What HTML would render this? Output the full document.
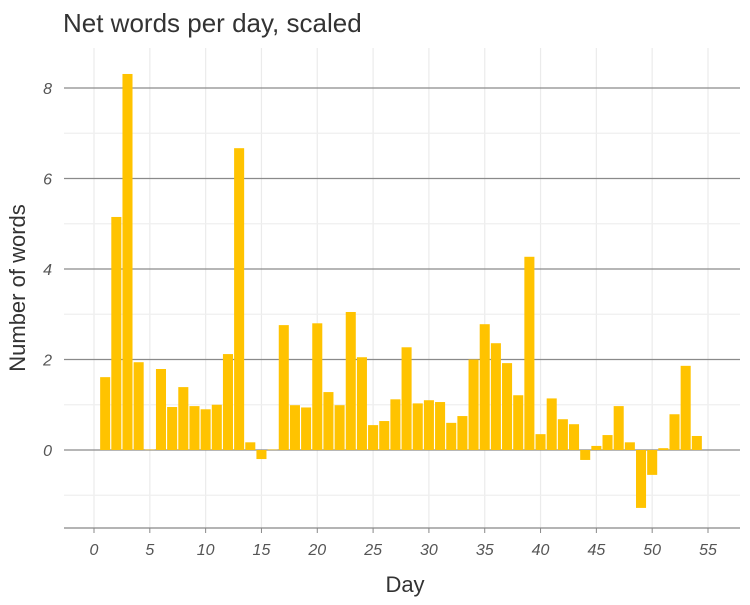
<!DOCTYPE html>
<html><head><meta charset="utf-8"><style>
body{margin:0;background:#fff;font-family:"Liberation Sans",sans-serif}
</style></head><body>
<svg id="c" width="750" height="600" xmlns="http://www.w3.org/2000/svg">
<text x="63" y="32" font-size="26" fill="#333">Net words per day, scaled</text>
<text x="405" y="592" font-size="22" fill="#333" text-anchor="middle">Day</text>
<text transform="translate(25,288) rotate(-90)" font-size="22" fill="#333" text-anchor="middle">Number of words</text>
<g id="grid"></g><g id="bars"></g><g id="axes"></g>
</svg>
<script>
const days=[1,2,3,4,5,6,7,8,9,10,11,12,13,14,15,16,17,18,19,20,21,22,23,24,25,26,27,28,29,30,31,32,33,34,35,36,37,38,39,40,41,42,43,44,45,46,47,48,49,50,51,52,53,54];
const words=[1.61,5.15,8.31,1.94,0.01,1.79,0.95,1.39,0.97,0.9,1.0,2.12,6.67,0.17,-0.2,0.01,2.76,0.99,0.94,2.8,1.28,0.99,3.05,2.05,0.55,0.64,1.12,2.27,1.03,1.1,1.06,0.6,0.75,2.0,2.78,2.36,1.92,1.21,4.27,0.35,1.14,0.68,0.57,-0.22,0.09,0.33,0.97,0.17,-1.28,-0.55,0.04,0.79,1.86,0.31];
const xTicks=[0,5,10,15,20,25,30,35,40,45,50,55];
const yTicks=[0,2,4,6,8];
const yMinor=[-1,1,3,5,7];
const L=64,R=740,T=48,B=528;
const xs=v=>94+(v-0)*(708-94)/55;
const ys=v=>450-v*(450-88)/8;
const NS='http://www.w3.org/2000/svg';
function mk(p,t,a){const e=document.createElementNS(NS,t);for(const k in a)e.setAttribute(k,a[k]);p.appendChild(e);return e;}
const g=document.getElementById('grid'),b=document.getElementById('bars'),ax=document.getElementById('axes');
xTicks.forEach(t=>{const l=mk(g,'line',{x1:xs(t),x2:xs(t),y1:T,y2:B,stroke:'#ebebeb','stroke-width':1.2});


const tk=mk(ax,'line',{x1:xs(t),x2:xs(t),y1:B,y2:B+5,stroke:'#888'});


const tx=mk(ax,'text',{x:xs(t),y:555,'font-size':16,'font-style':'italic',fill:'#555','text-anchor':'middle'});tx.textContent=t;

});
yMinor.forEach(t=>{const l=mk(g,'line',{x1:L,x2:R,y1:ys(t),y2:ys(t),stroke:'#efefef','stroke-width':1.2});

});
yTicks.forEach(t=>{const l=mk(g,'line',{x1:L,x2:R,y1:ys(t),y2:ys(t),stroke:'#8a8a8a','stroke-width':1.2});


const tx=mk(ax,'text',{x:52,y:ys(t)+6,'font-size':16,'font-style':'italic',fill:'#555','text-anchor':'end'});tx.textContent=t;

});
const w=(xs(1)-xs(0))*0.9;
days.forEach((d,i)=>{const v=words[i];const y0=ys(0),y1=ys(v);
const r=mk(b,'rect',{x:xs(d)-w/2,y:Math.min(y0,y1),width:w,height:Math.max(Math.abs(y1-y0),0.5),fill:'#ffc300'});

});
const al=mk(ax,'line',{x1:L,x2:R,y1:B,y2:B,stroke:'#888','stroke-width':1.2});


</script>
</body></html>
